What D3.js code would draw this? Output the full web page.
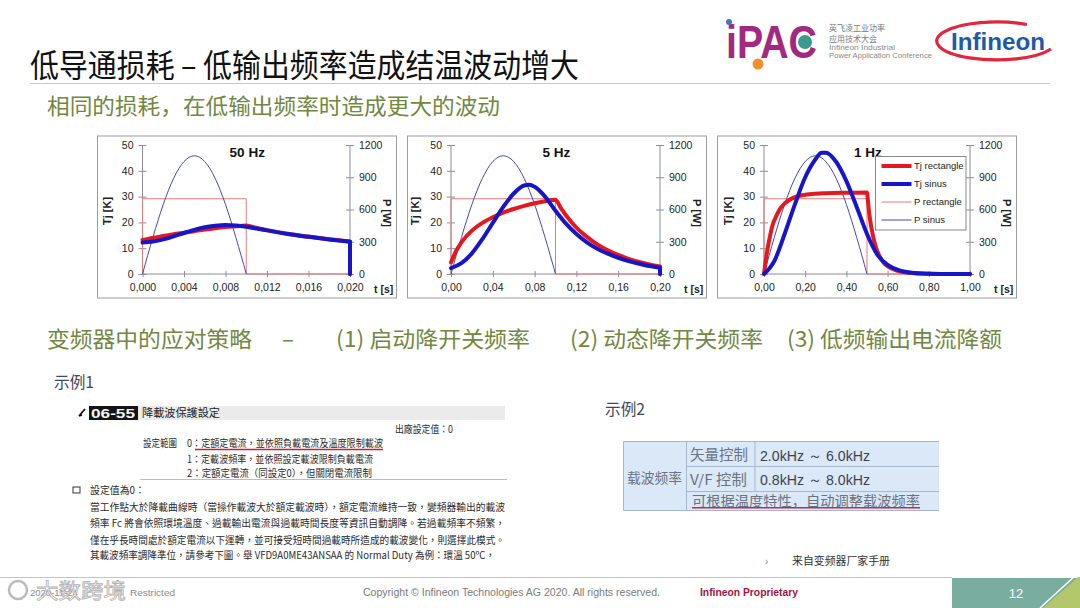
<!DOCTYPE html>
<html>
<head>
<meta charset="utf-8">
<script src="https://cdn.jsdelivr.net/npm/d3@7"></script>
<style>
body { margin: 0; background: #fff; }
svg text { font-family: "Liberation Sans", Arial, sans-serif; }
svg text.sc { font-family: "Noto Sans CJK SC", "Noto Sans", sans-serif; }
svg text.tc { font-family: "Noto Sans CJK TC", "Noto Sans", sans-serif; }
</style>
</head>
<body>
<div class="app"></div>
<script>
'use strict'

// ---------- data ----------
var chartTitles = ["50 Hz", "5 Hz", "1 Hz"];
var seriesNames = ["Tj rectangle", "Tj sinus", "P rectangle", "P sinus"];
var tjTicks = [0, 10, 20, 30, 40, 50];
var pTicks = [0, 300, 600, 900, 1200];
var tTicks50 = [0, 0.004, 0.008, 0.012, 0.016, 0.020];
var tTicks5 = [0, 0.04, 0.08, 0.12, 0.16, 0.20];
var tTicks1 = [0, 0.2, 0.4, 0.6, 0.8, 1.0];

// P sinus [W] during the on-time, read at 10 equal steps
var pSinW = [0, 340, 647, 890, 1046, 1100, 1046, 890, 647, 340, 0];
var pSinT50 = [0, 0.001, 0.002, 0.003, 0.004, 0.005, 0.006, 0.007, 0.008, 0.009, 0.010];
var pSinT5 = [0, 0.01, 0.02, 0.03, 0.04, 0.05, 0.06, 0.07, 0.08, 0.09, 0.10];
var pSinT1 = [0, 0.05, 0.10, 0.15, 0.20, 0.25, 0.30, 0.35, 0.40, 0.45, 0.50];

// P rectangle [t, W]
var pRect50 = [[0, 0], [0, 700], [0.010, 700], [0.010, 0], [0.020, 0]];
var pRect5 = [[0, 0], [0, 700], [0.10, 700], [0.10, 0], [0.20, 0]];
var pRect1 = [[0, 0], [0, 700], [0.50, 700], [0.50, 0], [1.00, 0]];

// Tj [K] curves [t, K]
var tjRect50 = [[0, 13.2], [0.001, 14.0], [0.002, 14.7], [0.003, 15.4], [0.004, 16.0], [0.005, 16.6],
  [0.006, 17.2], [0.007, 17.7], [0.008, 18.2], [0.009, 18.5], [0.010, 18.8], [0.011, 17.8],
  [0.012, 17.0], [0.014, 15.6], [0.016, 14.5], [0.018, 13.5], [0.020, 12.6], [0.020, 0]];
var tjSin50 = [[0, 12.2], [0.001, 12.6], [0.002, 13.4], [0.003, 14.6], [0.004, 15.9], [0.005, 17.1],
  [0.006, 18.1], [0.007, 18.7], [0.008, 19.0], [0.009, 18.8], [0.010, 18.3], [0.011, 17.6],
  [0.012, 16.9], [0.014, 15.5], [0.016, 14.4], [0.018, 13.4], [0.020, 12.5], [0.020, 0]];

var tjRect5 = [[0, 4.5], [0.005, 9.0], [0.01, 12.3], [0.02, 16.8], [0.03, 19.8], [0.04, 22.0],
  [0.05, 23.8], [0.06, 25.2], [0.07, 26.4], [0.08, 27.4], [0.09, 28.2], [0.10, 28.8],
  [0.105, 25.6], [0.11, 22.8], [0.12, 18.0], [0.13, 14.4], [0.14, 11.5], [0.15, 9.2],
  [0.16, 7.4], [0.17, 5.9], [0.18, 4.7], [0.19, 3.7], [0.20, 2.9], [0.20, 0]];
var tjSin5 = [[0, 2.3], [0.01, 4.2], [0.02, 8.0], [0.03, 13.5], [0.04, 19.8], [0.05, 26.0],
  [0.06, 31.2], [0.07, 34.3], [0.075, 34.6], [0.08, 33.8], [0.09, 30.0], [0.10, 24.5],
  [0.11, 19.5], [0.12, 15.5], [0.13, 12.3], [0.14, 9.8], [0.15, 7.9], [0.16, 6.3],
  [0.17, 5.0], [0.18, 4.0], [0.19, 3.1], [0.20, 2.4], [0.20, 0]];

var tjRect1 = [[0, 0], [0.01, 6.0], [0.02, 11.0], [0.03, 15.0], [0.04, 18.5], [0.06, 22.5],
  [0.08, 25.5], [0.10, 27.3], [0.125, 28.8], [0.15, 29.8], [0.20, 30.7], [0.25, 31.1],
  [0.30, 31.3], [0.40, 31.5], [0.50, 31.6], [0.505, 28.0], [0.51, 24.0], [0.52, 18.5],
  [0.53, 14.5], [0.54, 11.2], [0.56, 7.0], [0.58, 4.5], [0.60, 3.0], [0.65, 1.2],
  [0.70, 0.5], [0.75, 0.2], [0.80, 0.05], [0.90, 0], [1.00, 0]];
var tjSin1 = [[0, 0], [0.05, 5.0], [0.10, 15.5], [0.15, 27.0], [0.20, 37.5], [0.25, 44.5],
  [0.28, 47.0], [0.30, 47.0], [0.35, 43.5], [0.40, 36.0], [0.45, 26.0], [0.50, 15.5],
  [0.55, 7.5], [0.60, 3.5], [0.65, 1.6], [0.70, 0.7], [0.75, 0.3], [0.80, 0.1],
  [0.90, 0], [1.00, 0]];

// ---------- page ----------
var W = 1080, H = 608;
var svg = d3.select(".app").append("svg")
  .attr("width", W).attr("height", H);

svg.append("rect").attr("width", W).attr("height", H).attr("fill", "#fff");

function txt(x, y, s, size, cls, fill, len) {
  var t = svg.append("text")
    .attr("x", x).attr("y", y)
    .attr("font-size", size)
    .attr("fill", fill || "#222")
    .text(s);
  if (cls) t.attr("class", cls);
  if (len) t.attr("textLength", len).attr("lengthAdjust", "spacingAndGlyphs");
  return t;
}

// title
txt(30, 77, "低导通损耗 – 低输出频率造成结温波动增大", 32, "sc", "#111", 549);
svg.append("line").attr("x1", 30).attr("x2", 1050).attr("y1", 83.5).attr("y2", 83.5)
  .attr("stroke", "#c9c9c9").attr("stroke-width", 1);
txt(47, 114, "相同的损耗，在低输出频率时造成更大的波动", 21.5, "sc", "#72873f", 453);

// iPAC logo
txt(726, 58, "iPAC", 46, null, "#a3287f", 91).attr("font-weight", "bold");
svg.append("circle").attr("cx", 805).attr("cy", 42).attr("r", 7).attr("fill", "#3a9a8c");
svg.append("circle").attr("cx", 758).attr("cy", 64).attr("r", 5.5).attr("fill", "#f0902a");
svg.append("circle").attr("cx", 729).attr("cy", 22).attr("r", 3).attr("fill", "#4a74b8");
txt(829, 31, "英飞凌工业功率", 8.5, "sc", "#7a7a7a", 56);
txt(829, 41.5, "应用技术大会", 8.5, "sc", "#7a7a7a", 48);
txt(829, 50, "Infineon Industrial", 7, null, "#8a8a8a", 66);
txt(829, 58, "Power Application Conference", 7, null, "#8a8a8a", 103);

// Infineon logo
svg.append("path")
  .attr("d", "M1027,24.5 A60,19 0 1 0 1051,49")
  .attr("fill", "none").attr("stroke", "#e3263d").attr("stroke-width", 3.2);
txt(951, 50, "Infineon", 24, null, "#1f5aa6", 94).attr("font-weight", "bold");

// ---------- the three charts ----------
var yTop = 145, yBot = 274;
var colTjRect = "#e3191f", colTjSin = "#1616c8", colPRect = "#e47b7b", colPSin = "#4848a8";
var axisCol = "#8c8c9c";

var charts = [
  { title: chartTitles[0], frame: [97.5, 136], x: [142.5, 350], tMax: 0.02, ticks: tTicks50, fmt: ".3f",
    tjRect: tjRect50, tjSin: tjSin50, pRect: pRect50, pSinT: pSinT50, legend: false },
  { title: chartTitles[1], frame: [407.5, 136], x: [451, 660], tMax: 0.2, ticks: tTicks5, fmt: ".2f",
    tjRect: tjRect5, tjSin: tjSin5, pRect: pRect5, pSinT: pSinT5, legend: false },
  { title: chartTitles[2], frame: [717.5, 136], x: [764, 970], tMax: 1.0, ticks: tTicks1, fmt: ".2f",
    tjRect: tjRect1, tjSin: tjSin1, pRect: pRect1, pSinT: pSinT1, legend: true }
];

// split a series where time repeats, so vertical steps stay straight
function seriesPath(pts, sx, sy) {
  var smooth = d3.line().curve(d3.curveMonotoneX).x(function(d){ return sx(d[0]); }).y(function(d){ return sy(d[1]); });
  var straight = d3.line().x(function(d){ return sx(d[0]); }).y(function(d){ return sy(d[1]); });
  var d = "", run = [pts[0]];
  for (var i = 1; i < pts.length; i++) {
    if (pts[i][0] > pts[i - 1][0]) { run.push(pts[i]); continue; }
    if (run.length > 1) d += smooth(run);
    d += straight([pts[i - 1], pts[i]]);
    run = [pts[i]];
  }
  if (run.length > 1) d += smooth(run);
  return d;
}

charts.forEach(function(c) {
  var g = svg.append("g");
  g.append("rect")
    .attr("x", c.frame[0]).attr("y", c.frame[1]).attr("width", 299).attr("height", 162)
    .attr("fill", "#fff").attr("stroke", "#9c9c9c").attr("stroke-width", 1);

  var sx = d3.scaleLinear().domain([0, c.tMax]).range(c.x);
  var sy = d3.scaleLinear().domain([0, 50]).range([yBot, yTop]);
  var sp = d3.scaleLinear().domain([0, 1200]).range([yBot, yTop]);
  var fmt = d3.format(c.fmt);

  var xAxis = g.append("g").attr("transform", "translate(0," + yBot + ")")
    .call(d3.axisBottom(sx).tickValues(c.ticks).tickSize(3)
      .tickFormat(function(v){ return fmt(v).replace(".", ","); }));
  var yAxis = g.append("g").attr("transform", "translate(" + c.x[0] + ",0)")
    .call(d3.axisLeft(sy).tickValues(tjTicks).tickSize(4).tickFormat(d3.format("d")));
  var pAxis = g.append("g").attr("transform", "translate(" + c.x[1] + ",0)")
    .call(d3.axisRight(sp).tickValues(pTicks).tickSize(4).tickFormat(d3.format("d")));

  [xAxis, yAxis, pAxis].forEach(function(a) {
    a.selectAll(".tick line").attr("stroke", axisCol);
    a.selectAll(".tick text").attr("font-size", 10.5).attr("fill", "#222")
      .attr("font-family", "Liberation Sans, Arial, sans-serif");
  });
  // axis lines and crossing ticks
  xAxis.select(".domain").remove();
  xAxis.append("line").attr("x1", c.x[0]).attr("x2", c.x[1]).attr("stroke", axisCol);
  xAxis.selectAll(".tick line").attr("y1", -3).attr("y2", 3);
  xAxis.selectAll(".tick text").attr("y", 10);
  yAxis.select(".domain").remove();
  yAxis.append("line").attr("y1", yTop).attr("y2", yBot).attr("stroke", axisCol);
  yAxis.selectAll(".tick line").attr("x1", -4).attr("x2", 4);
  yAxis.selectAll(".tick text").attr("x", -9);
  pAxis.select(".domain").remove();
  pAxis.append("line").attr("y1", yTop).attr("y2", yBot).attr("stroke", axisCol);
  pAxis.selectAll(".tick line").attr("x1", -4).attr("x2", 4);
  pAxis.selectAll(".tick text").attr("x", 9);

  // labels
  g.append("text").attr("transform", "translate(" + (c.x[0] - 32) + ",211) rotate(-90)")
    .attr("text-anchor", "middle").attr("font-size", 11).attr("font-weight", "bold").attr("fill", "#222")
    .text("Tj [K]");
  g.append("text").attr("transform", "translate(" + (c.x[1] + 33) + ",213) rotate(90)")
    .attr("text-anchor", "middle").attr("font-size", 11).attr("font-weight", "bold").attr("fill", "#222")
    .text("P [W]");
  g.append("text").attr("x", c.x[1] + 24).attr("y", 292.5)
    .attr("font-size", 10.5).attr("font-weight", "bold").attr("fill", "#222").text("t [s]");
  g.append("text").attr("x", (c.x[0] + c.x[1]) / 2 + 1).attr("y", 157)
    .attr("text-anchor", "middle").attr("font-size", 13.5).attr("font-weight", "bold").attr("fill", "#111")
    .text(c.title);

  // P curves (thin)
  g.append("path").attr("d", seriesPath(c.pRect, sx, sp))
    .attr("fill", "none").attr("stroke", colPRect).attr("stroke-width", 1);
  var pSin = c.pSinT.map(function(t, i){ return [t, pSinW[i]]; });
  g.append("path").attr("d", seriesPath(pSin, sx, sp))
    .attr("fill", "none").attr("stroke", colPSin).attr("stroke-width", 1);

  // Tj curves (thick)
  g.append("path").attr("d", seriesPath(c.tjRect, sx, sy))
    .attr("fill", "none").attr("stroke", colTjRect).attr("stroke-width", 4)
    .attr("stroke-linejoin", "round").attr("stroke-linecap", "round");
  g.append("path").attr("d", seriesPath(c.tjSin, sx, sy))
    .attr("fill", "none").attr("stroke", colTjSin).attr("stroke-width", 4)
    .attr("stroke-linejoin", "round").attr("stroke-linecap", "round");

  if (c.legend) {
    var lg = g.append("g");
    lg.append("rect").attr("x", 875.5).attr("y", 156.5).attr("width", 90.5).attr("height", 73.5)
      .attr("fill", "#fff").attr("stroke", "#888").attr("stroke-width", 1);
    var cols = [colTjRect, colTjSin, colPRect, colPSin];
    var widths = [4, 4, 1, 1];
    var ly = d3.scalePoint().domain(seriesNames).range([166, 220]);
    seriesNames.forEach(function(n, i) {
      lg.append("line").attr("x1", 881.5).attr("x2", 911.5).attr("y1", ly(n)).attr("y2", ly(n))
        .attr("stroke", cols[i]).attr("stroke-width", widths[i]);
      lg.append("text").attr("x", 914).attr("y", ly(n) + 3.3).attr("font-size", 9.5)
        .attr("fill", "#222").text(n);
    });
  }
});

// ---------- strategy line ----------
var green = "#72873f";
txt(47, 347, "变频器中的应对策略", 22, "sc", green, 205);
txt(282, 347, "–", 22, "sc", green);
txt(336, 347, "(1) 启动降开关频率", 22, "sc", green, 194);
txt(570, 347, "(2) 动态降开关频率", 22, "sc", green, 193);
txt(787, 347, "(3) 低频输出电流降额", 22, "sc", green, 215);

// ---------- example 1 ----------
txt(54, 388, "示例1", 16, "sc", "#404858", 40);
svg.append("path").attr("d", "M79,416 L85,409 M79,416 L82,415").attr("stroke", "#111").attr("stroke-width", 1.8);
svg.append("rect").attr("x", 138).attr("y", 406).attr("width", 367).attr("height", 14).attr("fill", "#ebebeb");
svg.append("rect").attr("x", 89).attr("y", 406).attr("width", 49).attr("height", 14).attr("fill", "#141414");
txt(91, 418, "06-55", 13, null, "#f4f4f4", 44).attr("font-family", "DejaVu Sans Mono, monospace").attr("font-weight", "bold");
txt(142, 417, "降載波保護設定", 11, "tc", "#222", 78);
txt(395, 433, "出廠設定值：0", 10, "tc", "#2a2a2a", 58);
txt(143, 446.5, "設定範圍", 10, "tc", "#2a2a2a", 34);
txt(187, 446.5, "0：定額定電流，並依照負載電流及溫度限制載波", 10, "tc", "#2a2a2a", 196);
svg.append("line").attr("x1", 195).attr("x2", 383).attr("y1", 449.5).attr("y2", 449.5)
  .attr("stroke", "#c0203a").attr("stroke-width", 1.3);
txt(187, 462.5, "1：定載波頻率，並依照設定載波限制負載電流", 10, "tc", "#2a2a2a", 186);
txt(187, 476.5, "2：定額定電流（同設定0），但關閉電流限制", 10, "tc", "#2a2a2a", 185);
svg.append("line").attr("x1", 140).attr("x2", 507).attr("y1", 479.5).attr("y2", 479.5)
  .attr("stroke", "#bdbdbd").attr("stroke-width", 1);
svg.append("rect").attr("x", 73).attr("y", 487).attr("width", 7).attr("height", 6)
  .attr("fill", "none").attr("stroke", "#333").attr("stroke-width", 1);
txt(90, 494, "設定值為0：", 10, "tc", "#2a2a2a", 55);
txt(90, 510.5, "當工作點大於降載曲線時（當操作載波大於額定載波時），額定電流維持一致，變頻器輸出的載波", 10, "tc", "#2a2a2a", 415);
txt(90, 527, "頻率 Fc 將會依照環境溫度、過載輸出電流與過載時間長度等資訊自動調降。若過載頻率不頻繁，", 10, "tc", "#2a2a2a", 415);
txt(90, 543.5, "僅在乎長時間處於額定電流以下運轉，並可接受短時間過載時所造成的載波變化，則選擇此模式。", 10, "tc", "#2a2a2a", 415);
txt(90, 559, "其載波頻率調降準位，請參考下圖。舉 VFD9A0ME43ANSAA 的 Normal Duty 為例：環溫 50ºC，", 10, "tc", "#2a2a2a", 405);

// ---------- example 2 ----------
txt(605, 415, "示例2", 16, "sc", "#404858", 40);
var tb = svg.append("g");
tb.append("rect").attr("x", 623.5).attr("y", 441.5).attr("width", 315.5).attr("height", 69)
  .attr("fill", "#dae8f7");
var bc = "#a6b8cc";
[[623.5, 441.5, 939, 441.5], [623.5, 510.5, 939, 510.5], [623.5, 441.5, 623.5, 510.5],
 [686.5, 441.5, 686.5, 510.5], [755, 441.5, 755, 491.5],
 [686.5, 466.5, 939, 466.5], [686.5, 491.5, 939, 491.5]].forEach(function(l) {
  tb.append("line").attr("x1", l[0]).attr("y1", l[1]).attr("x2", l[2]).attr("y2", l[3])
    .attr("stroke", bc).attr("stroke-width", 1);
});
txt(627, 483, "载波频率", 13.5, "sc", "#6b7282", 55);
txt(690, 460, "矢量控制", 14.5, "sc", "#6b7282", 58);
txt(690, 484.5, "V/F 控制", 14.5, "sc", "#6b7282", 57);
txt(760, 460.5, "2.0kHz ～ 6.0kHz", 15, null, "#3d4252", 110);
txt(760, 485, "0.8kHz ～ 8.0kHz", 15, null, "#3d4252", 110);
txt(692, 505.5, "可根据温度特性，自动调整载波频率", 14, "sc", "#6b7282", 228);
svg.append("line").attr("x1", 692).attr("x2", 920).attr("y1", 507.8).attr("y2", 507.8)
  .attr("stroke", "#c8285a").attr("stroke-width", 1.6);
txt(765, 565, "›", 10, null, "#888");
txt(792, 565, "来自变频器厂家手册", 11, "sc", "#333", 98);

// ---------- footer ----------
svg.append("line").attr("x1", 0).attr("x2", 952).attr("y1", 577.5).attr("y2", 577.5)
  .attr("stroke", "#c4c4c4").attr("stroke-width", 1);
txt(30, 596, "2020-11-24", 9.5, null, "#8a8a8a");
txt(130, 596, "Restricted", 9.5, null, "#8a8a8a", 45);
svg.append("circle").attr("cx", 18).attr("cy", 590).attr("r", 9)
  .attr("fill", "none").attr("stroke", "#bbb").attr("stroke-width", 2.5);
txt(36, 598, "大数跨境", 21, "sc", "#fff", 90).attr("stroke", "#aaa").attr("stroke-width", 0.8).attr("opacity", 0.9);
txt(363, 596, "Copyright © Infineon Technologies AG 2020. All rights reserved.", 10, null, "#7a7a7a", 297);
txt(700, 596, "Infineon  Proprietary", 10, null, "#a3143d", 98).attr("font-weight", "bold");
svg.append("rect").attr("x", 952).attr("y", 578).attr("width", 128).attr("height", 30).attr("fill", "#79ad9f");
svg.append("polygon").attr("points", "1043,608 1078,577 1080,577 1080,608").attr("fill", "#b3c86a");
svg.append("line").attr("x1", 1040).attr("y1", 608).attr("x2", 1076).attr("y2", 575)
  .attr("stroke", "#fff").attr("stroke-width", 1.5);
txt(1016, 598, "12", 13, null, "#fff").attr("text-anchor", "middle");
</script>
</body>
</html>
